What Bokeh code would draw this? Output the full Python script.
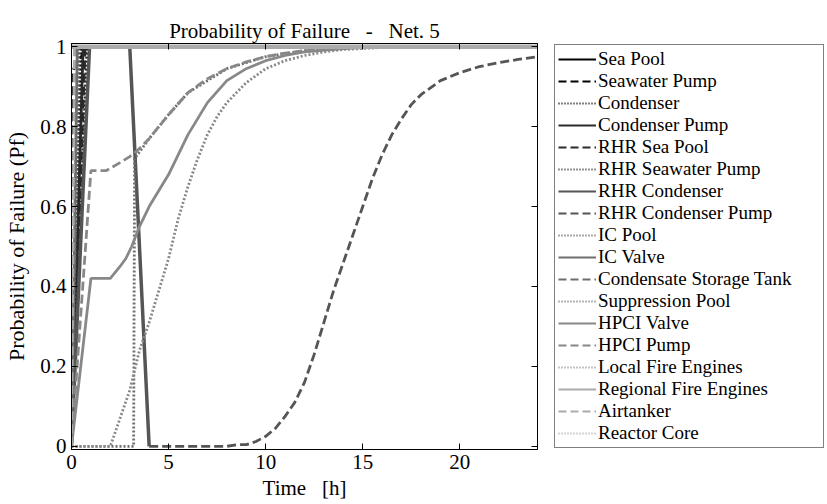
from bokeh.plotting import figure
from bokeh.layouts import row
from bokeh.models import Range1d, FixedTicker, LinearAxis, Legend, LegendItem
from bokeh.embed import file_html
from bokeh.resources import INLINE

# ---------------- data ----------------
names = ["Sea Pool", "Seawater Pump", "Condenser", "Condenser Pump", "RHR Sea Pool",
         "RHR Seawater Pump", "RHR Condenser", "RHR Condenser Pump", "IC Pool", "IC Valve",
         "Condensate Storage Tank", "Suppression Pool", "HPCI Valve", "HPCI Pump",
         "Local Fire Engines", "Regional Fire Engines", "Airtanker", "Reactor Core"]

sea_pool_t = [0, 24]
sea_pool_p = [1, 1]
seawater_pump_t = [0, 0, 0.2, 0.5, 0.8, 1, 24]
seawater_pump_p = [0, 0.93, 0.955, 0.975, 0.99, 1, 1]
condenser_t = [0, 0.5, 24]
condenser_p = [0, 1, 1]
condenser_pump_t = [0, 0.6, 24]
condenser_pump_p = [0, 1, 1]
rhr_sea_pool_t = [0, 0.7, 24]
rhr_sea_pool_p = [0, 1, 1]
rhr_seawater_pump_t = [0, 0.8, 24]
rhr_seawater_pump_p = [0, 1, 1]
rhr_condenser_t = [0, 0.93, 3.0, 4.0]
rhr_condenser_p = [0, 1, 1, 0]
rhr_condenser_pump_t = [4, 5, 6, 7, 8, 8.5, 9, 9.5, 10, 10.5, 11, 11.5, 12, 12.5, 13, 13.5, 14,
                        14.5, 15, 15.5, 16, 16.5, 17, 17.5, 18, 19, 20, 21, 22, 23, 24]
rhr_condenser_pump_p = [0, 0, 0, 0, 0, 0.004, 0.004, 0.012, 0.025, 0.045, 0.075, 0.11, 0.16, 0.23,
                        0.31, 0.39, 0.46, 0.53, 0.60, 0.67, 0.73, 0.78, 0.82, 0.855, 0.88, 0.915,
                        0.935, 0.95, 0.96, 0.968, 0.975]
ic_pool_t = [0, 0.4, 24]
ic_pool_p = [0, 1, 1]
ic_valve_t = [0, 0.3, 24]
ic_valve_p = [0, 1, 1]
cst_t = [0, 0.25, 24]
cst_p = [0, 1, 1]
suppression_pool_t = [0, 3.2, 3.25, 4, 5, 6, 8, 10, 12, 14, 16, 24]
suppression_pool_p = [0, 0, 0.72, 0.77, 0.83, 0.885, 0.945, 0.975, 0.99, 0.997, 1, 1]
hpci_valve_t = [0, 1, 2, 2.5, 2.8, 3.1, 3.5, 4, 4.5, 5, 6, 7, 8, 9, 10, 11, 12, 14, 16, 24]
hpci_valve_p = [0, 0.42, 0.42, 0.45, 0.47, 0.50, 0.55, 0.60, 0.64, 0.68, 0.78, 0.86, 0.915,
                0.945, 0.965, 0.978, 0.987, 0.995, 1, 1]
hpci_pump_t = [0, 1, 1.8, 2.5, 3, 3.5, 4, 4.5, 5, 6, 7, 8, 9, 10, 11, 12, 14, 16, 24]
hpci_pump_p = [0, 0.69, 0.69, 0.71, 0.725, 0.745, 0.77, 0.80, 0.83, 0.885, 0.92, 0.945, 0.962,
               0.975, 0.984, 0.99, 0.997, 1, 1]
local_fire_t = [0, 2, 2.5, 3, 3.5, 4, 4.5, 5, 5.5, 6, 6.5, 7, 7.5, 8, 9, 10, 11, 12, 13, 14, 16, 18, 24]
local_fire_p = [0, 0, 0.07, 0.14, 0.24, 0.31, 0.39, 0.47, 0.57, 0.65, 0.72, 0.78, 0.825, 0.86,
                0.91, 0.945, 0.965, 0.978, 0.987, 0.993, 0.998, 1, 1]
regional_fire_t = [0, 24]
regional_fire_p = [1, 1]
airtanker_t = [0, 0.15, 24]
airtanker_p = [0, 1, 1]
reactor_core_t = [0, 24]
reactor_core_p = [1, 1]

series_t = [sea_pool_t, seawater_pump_t, condenser_t, condenser_pump_t, rhr_sea_pool_t,
            rhr_seawater_pump_t, rhr_condenser_t, rhr_condenser_pump_t, ic_pool_t, ic_valve_t,
            cst_t, suppression_pool_t, hpci_valve_t, hpci_pump_t, local_fire_t, regional_fire_t,
            airtanker_t, reactor_core_t]
series_p = [sea_pool_p, seawater_pump_p, condenser_p, condenser_pump_p, rhr_sea_pool_p,
            rhr_seawater_pump_p, rhr_condenser_p, rhr_condenser_pump_p, ic_pool_p, ic_valve_p,
            cst_p, suppression_pool_p, hpci_valve_p, hpci_pump_p, local_fire_p, regional_fire_p,
            airtanker_p, reactor_core_p]

x_ticks = [0, 5, 10, 15, 20]
y_ticks = [0, 0.2, 0.4, 0.6, 0.8, 1]
y_tick_labels = ["0", "0.2", "0.4", "0.6", "0.8", "1"]

# ---------------- styles ----------------
group_colors = ["#000000", "#2a2a2a", "#555555", "#6e6e6e", "#888888", "#ababab"]
dashes = ["solid", "9 4", "2 2"]
legend_dashes = ["solid", "8 4", "1 2"]
widths = {6: 3.5, 15: 4.5}

FONT = "Liberation Serif"
FS = "21px"

p = figure(width=545, height=502, output_backend="svg", toolbar_location=None,
           x_range=Range1d(0, 24), y_range=Range1d(-0.008, 1.008),
           min_border_left=71, min_border_right=8, min_border_top=43, min_border_bottom=53,
           title="Probability of Failure \u00a0 - \u00a0 Net. 5")
p.title.align = "center"
p.title.text_font = FONT
p.title.text_font_size = FS
p.title.text_font_style = "normal"
p.title.text_color = "#000000"
p.title.standoff = 2

p.grid.visible = False
p.outline_line_color = "#000000"
p.outline_line_width = 1

for ax in [p.xaxis[0], p.yaxis[0]]:
    ax.major_label_text_font = FONT
    ax.major_label_text_font_size = FS
    ax.major_label_text_color = "#000000"
    ax.axis_label_text_font = FONT
    ax.axis_label_text_font_size = FS
    ax.axis_label_text_font_style = "normal"
    ax.axis_label_text_color = "#000000"
    ax.major_tick_in = 6
    ax.major_tick_out = 0
    ax.minor_tick_line_color = None
    ax.axis_line_color = "#000000"
    ax.major_tick_line_color = "#000000"
    ax.major_label_standoff = 5

p.xaxis[0].ticker = FixedTicker(ticks=x_ticks)
p.yaxis[0].ticker = FixedTicker(ticks=y_ticks)
p.yaxis[0].major_label_overrides = {t: l for t, l in zip(y_ticks, y_tick_labels)}
p.xaxis[0].axis_label = "Time \u00a0 [h]"
p.yaxis[0].axis_label = "Probability of Failure (Pf)"
p.yaxis[0].axis_label_text_font_size = "22px"
p.xaxis[0].axis_label_standoff = 4
p.yaxis[0].axis_label_standoff = 8

# mirrored tick marks on top and right
top_ax = LinearAxis(ticker=FixedTicker(ticks=x_ticks), major_label_text_font_size="1px",
                    major_label_text_color=None,
                    major_tick_in=6, major_tick_out=0, minor_tick_line_color=None,
                    major_label_standoff=0)
right_ax = LinearAxis(ticker=FixedTicker(ticks=y_ticks), major_label_text_font_size="1px",
                      major_label_text_color=None,
                      major_tick_in=6, major_tick_out=0, minor_tick_line_color=None,
                      major_label_standoff=0)
p.add_layout(top_ax, "above")
p.add_layout(right_ax, "right")

# legend panel: a second plot whose view range shows none of the series
lf = figure(width=282, height=502, output_backend="svg", toolbar_location=None,
            x_range=Range1d(100, 101), y_range=Range1d(100, 101),
            x_axis_location=None, y_axis_location=None,
            min_border_left=8, min_border_right=2, min_border_top=43, min_border_bottom=53)
lf.grid.visible = False
lf.outline_line_color = None

items = []
for i, name in enumerate(names):
    color = group_colors[i // 3]
    w = widths.get(i, 2.8)
    p.line(series_t[i], series_p[i], line_color=color, line_width=w, line_dash=dashes[i % 3])
    lr = lf.line(series_t[i], series_p[i], line_color=color, line_width=2.2,
                 line_dash=legend_dashes[i % 3])
    items.append(LegendItem(label=name, renderers=[lr]))

legend = Legend(items=items, location="top_left")
legend.label_text_font = FONT
legend.label_text_font_size = "19px"
legend.label_text_color = "#000000"
legend.label_standoff = 2
legend.glyph_width = 38
legend.glyph_height = 22
legend.label_height = 22
legend.spacing = 0
legend.padding = 3
legend.margin = 1
legend.border_line_color = "#000000"
legend.border_line_width = 1
legend.background_fill_color = "#ffffff"
legend.background_fill_alpha = 1
legend.label_width = 222
lf.add_layout(legend, "center")

layout = row(p, lf)
open("out.html", "w").write(file_html(layout, INLINE))
